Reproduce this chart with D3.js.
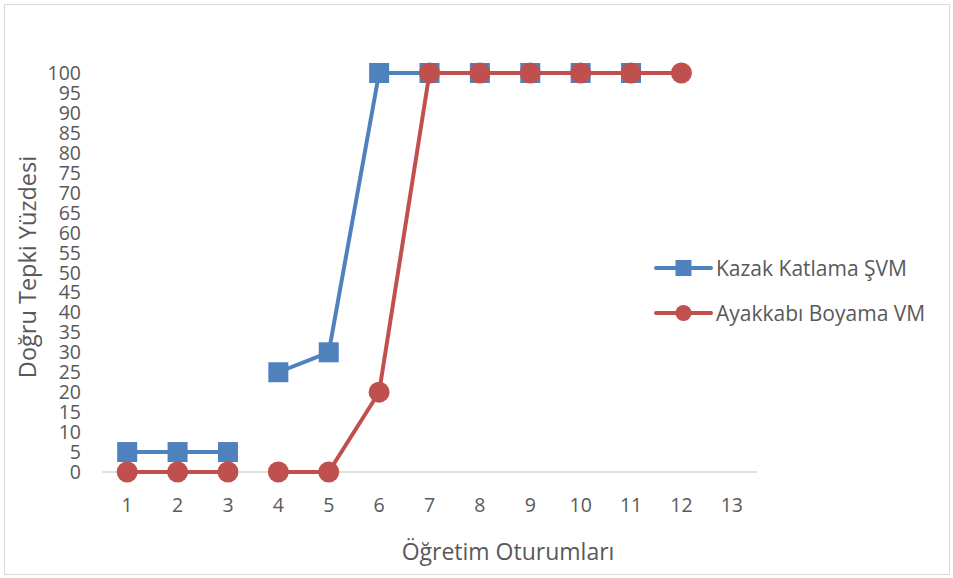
<!DOCTYPE html>
<html>
<head>
<meta charset="utf-8">
<script src="https://cdn.jsdelivr.net/npm/d3@7"></script>
<style>
  body { margin: 0; background: #fff; }
  svg text { font-family: "Open Sans", Lato, sans-serif; fill: #595959; }
</style>
</head>
<body>
<script>
// session numbers on the x axis
var sessions = [1, 2, 3, 4, 5, 6, 7, 8, 9, 10, 11, 12, 13];
// percent correct per session, null = no data
var kazakValues = [5, 5, 5, 25, 30, 100, 100, 100, 100, 100, 100, null, null];
var ayakkabiValues = [0, 0, 0, 0, 0, 20, 100, 100, 100, 100, 100, 100, null];
// line is broken after this session (phase change)
var phaseBreak = 3;
var yTicks = d3.range(0, 101, 5);
var seriesNames = ["Kazak Katlama ŞVM", "Ayakkabı Boyama VM"];

var width = 953, height = 578;

var svg = d3.select("body").append("svg")
    .attr("width", width)
    .attr("height", height);

// chart frame
svg.append("rect")
    .attr("x", 4.5).attr("y", 4.5)
    .attr("width", width - 8).attr("height", height - 8)
    .attr("fill", "#fff")
    .attr("stroke", "#d9d9d9");

var x = d3.scalePoint()
    .domain(sessions)
    .range([102, 757])
    .padding(0.5);

var y = d3.scaleLinear()
    .domain([0, 100])
    .range([472, 73]);

// x axis line
svg.append("line")
    .attr("x1", 102).attr("x2", 757)
    .attr("y1", y(0)).attr("y2", y(0))
    .attr("stroke", "#d9d9d9")
    .attr("stroke-width", 1.5);

// y tick labels
svg.selectAll(".ytick")
    .data(yTicks)
    .enter().append("text")
    .attr("class", "ytick")
    .attr("x", 81)
    .attr("y", function(d){ return y(d); })
    .attr("dy", "0.36em")
    .attr("text-anchor", "end")
    .style("font-size", "19.5px")
    .text(function(d){ return d; });

// x tick labels
svg.selectAll(".xtick")
    .data(sessions)
    .enter().append("text")
    .attr("class", "xtick")
    .attr("x", function(d){ return x(d); })
    .attr("y", 505)
    .attr("dy", "0.36em")
    .attr("text-anchor", "middle")
    .style("font-size", "19.5px")
    .text(function(d){ return d; });

// axis titles
svg.append("text")
    .attr("x", 508).attr("y", 552)
    .attr("dy", "0.36em")
    .attr("text-anchor", "middle")
    .style("font-size", "23px")
    .text("Öğretim Oturumları");

svg.append("text")
    .attr("transform", "translate(28,267) rotate(-90)")
    .attr("dy", "0.36em")
    .attr("text-anchor", "middle")
    .style("font-size", "23.5px")
    .text("Doğru Tepki Yüzdesi");

var series = [
    { name: seriesNames[0], values: kazakValues, color: "#4f81bd", marker: "square" },
    { name: seriesNames[1], values: ayakkabiValues, color: "#c0504d", marker: "circle" }
];

var line = d3.line()
    .defined(function(d){ return d.v !== null; })
    .x(function(d){ return x(d.s); })
    .y(function(d){ return y(d.v); });

function drawMarker(g, type, color){
    if (type === "square"){
        g.append("rect")
            .attr("x", -10).attr("y", -10)
            .attr("width", 20).attr("height", 20)
            .attr("fill", color);
    } else {
        g.append("circle")
            .attr("r", 10.5)
            .attr("fill", color);
    }
}

series.forEach(function(s){
    var pts = sessions.map(function(sv, i){ return { s: sv, v: s.values[i] }; });
    // split into the two phases
    var phases = [
        pts.filter(function(d){ return d.s <= phaseBreak; }),
        pts.filter(function(d){ return d.s > phaseBreak; })
    ];

    phases.forEach(function(seg){
        svg.append("path")
            .datum(seg)
            .attr("fill", "none")
            .attr("stroke", s.color)
            .attr("stroke-width", 4)
            .attr("stroke-linejoin", "round")
            .attr("d", line);
    });

    pts.filter(function(d){ return d.v !== null; }).forEach(function(d){
        var g = svg.append("g")
            .attr("transform", "translate(" + x(d.s) + "," + y(d.v) + ")");
        drawMarker(g, s.marker, s.color);
    });
});

// legend
var legend = svg.selectAll(".legend")
    .data(series)
    .enter().append("g")
    .attr("class", "legend")
    .attr("transform", function(d, i){ return "translate(656," + (268 + i * 45) + ")"; });

legend.append("line")
    .attr("x1", 0).attr("x2", 55)
    .attr("stroke", function(d){ return d.color; })
    .attr("stroke-width", 4)
    .attr("stroke-linecap", "round");

legend.each(function(d){
    var g = d3.select(this).append("g").attr("transform", "translate(27.5,0)");
    if (d.marker === "square"){
        g.append("rect").attr("x", -8).attr("y", -8).attr("width", 16).attr("height", 16).attr("fill", d.color);
    } else {
        g.append("circle").attr("r", 8).attr("fill", d.color);
    }
});

legend.append("text")
    .attr("x", 60)
    .attr("dy", "0.36em")
    .style("font-size", "21px")
    .text(function(d){ return d.name; });
</script>
</body>
</html>
